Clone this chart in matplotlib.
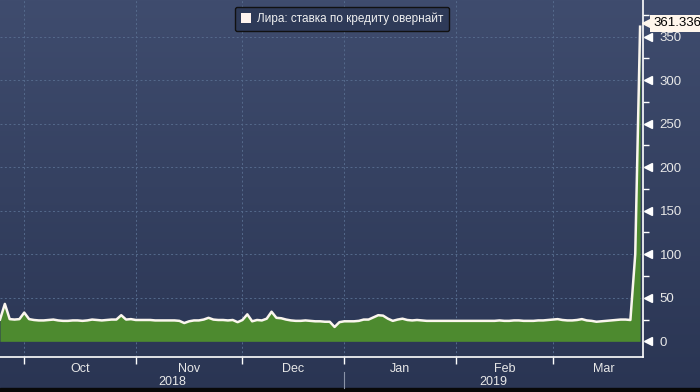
import numpy as np
import pandas as pd
import matplotlib
matplotlib.use('Agg')
import matplotlib.pyplot as plt
import matplotlib.transforms as mtransforms
from matplotlib.patches import Patch, Rectangle

plt.rcParams['font.family'] = ['Liberation Sans', 'DejaVu Sans']

# overnight lira lending rate, business days from 24 Sep 2018 to 27 Mar 2019
start_date = '2018-09-24'
rate = [25, 43, 25.5, 25, 25.5, 33, 25.5, 24.5, 24, 24,
        24.5, 25, 24, 23.5, 23.5, 24, 24, 23.5, 24, 25,
        24.5, 24, 24.5, 25, 25, 30, 25, 25.5, 24.5, 24.5,
        24.5, 24.5, 24, 24, 24, 24, 24, 23.5, 21, 23,
        24, 24, 25, 27, 25, 24.5, 24.5, 24, 24.5, 22,
        24.5, 31, 23, 24.5, 24, 26, 34, 27, 26.5, 25,
        24, 23.5, 23.5, 24, 23.5, 23, 23, 22.5, 22.5, 16.5,
        22, 23, 23, 23, 23.5, 25, 25, 27.5, 30, 29.5,
        26, 23.5, 25, 26, 24.5, 24, 24.5, 24, 23.5, 23.5,
        23.5, 23.5, 23.5, 23.5, 23.5, 23.5, 23.5, 23.5, 23.5, 23.5,
        23.5, 23.5, 23.5, 24, 23.5, 23.5, 24, 24, 23.5, 23.5,
        23.5, 24, 24, 24.5, 25, 25.5, 24.5, 24, 24, 24.5,
        25.5, 24, 23.5, 22.5, 23, 23.5, 24, 24.5, 25, 25,
        24.5, 100, 361.336]
series_label = 'Лира: ставка по кредиту овернайт'
month_names = ['Oct', 'Nov', 'Dec', 'Jan', 'Feb', 'Mar']
year_names = ['2018', '2019']
y_ticks = [0, 50, 100, 150, 200, 250, 300, 350]

x = np.arange(len(rate))
ext = pd.bdate_range(start_date, '2019-04-01')
month_start = [i for i in range(1, len(ext)) if ext[i].month != ext[i - 1].month]

fig = plt.figure(figsize=(7, 3.92), dpi=100)

# background gradient
bg = fig.add_axes([0, 0, 1, 1], zorder=-10)
grad = np.linspace(0, 1, 256).reshape(-1, 1)
top = np.array([0x3f, 0x4c, 0x6e]) / 255
bot = np.array([0x2a, 0x35, 0x53]) / 255
img = top + (bot - top) * grad[:, :, None]
bg.imshow(img, aspect='auto', extent=[0, 1, 0, 1])
bg.add_patch(Rectangle((0, 0), 1, 0.01, color='#080808'))
bg.set_axis_off()

ax = fig.add_axes([0, 35 / 392, 643 / 700, 357 / 392])
ax.patch.set_alpha(0)

ax.fill_between(x, 0, rate, color='#4d8a2f', zorder=2, linewidth=0)
ax.plot(x, rate, color='#fbf6ee', lw=1.8, zorder=3)

ax.set_xlim(0, 132.6)
ax.set_ylim(-18, 392)

for s in ['left', 'top']:
    ax.spines[s].set_visible(False)
for s in ['bottom', 'right']:
    ax.spines[s].set_color('white')
    ax.spines[s].set_linewidth(1.2)

# grid
for yv in y_ticks[1:]:
    ax.axhline(yv, color='#556a8c', lw=0.7, ls=(0, (2, 2.5)), zorder=1)
for m in month_start[:6]:
    ax.axvline(m, color='#556a8c', lw=0.7, ls=(0, (2, 2.5)), zorder=1)

# x axis ticks
ax.set_xticks(month_start[:6])
ax.set_xticklabels([])
ax.tick_params(axis='x', which='major', length=5, color='white', width=1)
mids = [(month_start[i] + month_start[i + 1]) / 2 for i in range(6)]
ax.set_xticks(mids, minor=True)
ax.set_xticklabels(month_names, minor=True)
ax.tick_params(axis='x', which='minor', length=0, pad=4, labelcolor='#e8e8e8', labelsize=9)

tb = mtransforms.blended_transform_factory(ax.transData, ax.transAxes)
jan = month_start[3]
ax.text(jan / 2, -25 / 357, year_names[0], transform=tb, ha='center', va='center',
        color='#e8e8e8', fontsize=9)
ax.text((jan + 132.6) / 2, -25 / 357, year_names[1], transform=tb, ha='center', va='center',
        color='#e8e8e8', fontsize=9)
ax.plot([jan, jan], [-15 / 357, -31 / 357], transform=tb, color='#8a93a8', lw=0.8, clip_on=False)

# y axis on right
ax.yaxis.tick_right()
ax.set_yticks(y_ticks)
ax.set_yticklabels([str(v) for v in y_ticks])
ax.tick_params(axis='y', which='major', length=0, pad=12, labelcolor='#e8e8e8', labelsize=9.5)
ax.set_yticks([25, 75, 125, 175, 225, 275, 325, 375], minor=True)
ax.tick_params(axis='y', which='minor', length=4, color='white', width=1, direction='out')
yb = mtransforms.blended_transform_factory(ax.transAxes, ax.transData)
ax.plot([1.0085] * len(y_ticks), y_ticks, transform=yb, ls='none', marker='<',
        ms=6, color='white', clip_on=False)

# last value tag
last = rate[-1]
ax.plot([1.0075], [last + 4], transform=yb, marker='<', ms=9, color='#fff6ec',
        ls='none', clip_on=False, zorder=5)
ax.text(1.0155, last + 4, f'{last:.3f}', transform=yb, ha='left', va='center',
        fontsize=9.5, color='black', zorder=6,
        bbox=dict(boxstyle='square,pad=0.2', fc='#fff6ec', ec='none'))

leg = ax.legend(handles=[Patch(facecolor='#fff4ee', edgecolor='none')], labels=[series_label],
                loc='upper center', bbox_to_anchor=(0.532, 0.997), fontsize=8.5,
                handlelength=0.9, handleheight=0.9, handletextpad=0.5, borderpad=0.5,
                fancybox=True, labelcolor='#f0f0f0')
leg.get_frame().set_facecolor('#2e3a58')
leg.get_frame().set_edgecolor('#111111')
leg.get_frame().set_alpha(1)

fig.savefig('out.png', dpi=100, facecolor=fig.get_facecolor())
